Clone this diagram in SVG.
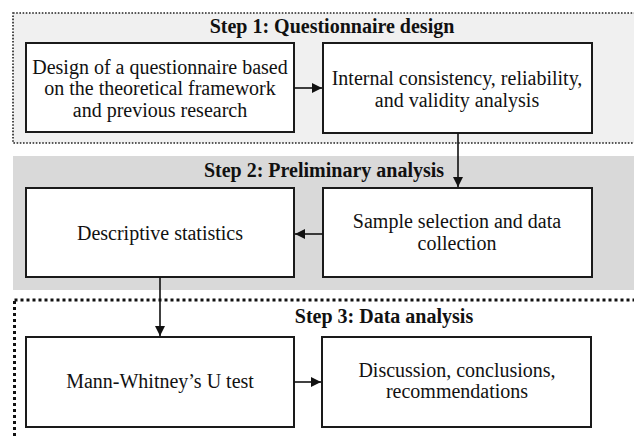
<svg xmlns="http://www.w3.org/2000/svg" width="634" height="438" viewBox="0 0 634 438">
<defs>
<style>
.box{fill:#fff;stroke:#1a1a1a;stroke-width:2}
.t{font-family:"Liberation Serif","Times New Roman",serif;font-size:20px;fill:#111;text-anchor:middle}
.h{font-family:"Liberation Serif","Times New Roman",serif;font-size:20px;font-weight:bold;fill:#111;text-anchor:middle}
.c{stroke:#111;stroke-width:1.6;fill:none}
</style>
<marker id="ah" viewBox="0 0 10 10" refX="10" refY="5" markerWidth="10" markerHeight="10" markerUnits="userSpaceOnUse" orient="auto">
<path d="M0,0 L10,5 L0,10 z" fill="#111"/>
</marker>
</defs>
<rect width="634" height="438" fill="#fff"/>
<g id="step1">
<rect x="13" y="13" width="640" height="130" fill="#f0f0f0" stroke="#222" stroke-width="1.6" stroke-dasharray="1.6 1.6"/>
<text class="h" x="332" y="33">Step 1: Questionnaire design</text>
</g>
<g id="step2">
<rect x="13" y="156" width="640" height="134" fill="#d9d9d9"/>
<text class="h" x="324" y="177">Step 2: Preliminary analysis</text>
</g>
<g id="step3">
<rect x="14.5" y="300" width="640" height="160" fill="none" stroke="#111" stroke-width="3" stroke-dasharray="3 3"/>
<text class="h" x="384" y="323">Step 3: Data analysis</text>
</g>
<g id="n1">
<rect class="box" x="26" y="43" width="268" height="89"/>
<text class="t" x="160" y="74">Design of a questionnaire based</text>
<text class="t" x="160" y="95">on the theoretical framework</text>
<text class="t" x="160" y="117">and previous research</text>
</g>
<g id="n2">
<rect class="box" x="323" y="43" width="269" height="90"/>
<text class="t" x="457" y="85">Internal consistency, reliability,</text>
<text class="t" x="457" y="107">and validity analysis</text>
</g>
<g id="n3">
<rect class="box" x="323" y="188" width="269" height="89"/>
<text class="t" x="457" y="228">Sample selection and data</text>
<text class="t" x="457" y="250">collection</text>
</g>
<g id="n4">
<rect class="box" x="26" y="188" width="268" height="89"/>
<text class="t" x="160" y="240">Descriptive statistics</text>
</g>
<g id="n5">
<rect class="box" x="26" y="337" width="268" height="90"/>
<text class="t" x="160" y="388">Mann-Whitney’s U test</text>
</g>
<g id="n6">
<rect class="box" x="322" y="337" width="269" height="90"/>
<text class="t" x="457" y="377">Discussion, conclusions,</text>
<text class="t" x="457" y="398">recommendations</text>
</g>
<g id="connectors">
<line class="c" x1="294" y1="88" x2="322" y2="88" marker-end="url(#ah)"/>
<line class="c" x1="458" y1="133" x2="458" y2="187" marker-end="url(#ah)"/>
<line class="c" x1="323" y1="234" x2="295" y2="234" marker-end="url(#ah)"/>
<line class="c" x1="160" y1="277" x2="160" y2="336" marker-end="url(#ah)"/>
<line class="c" x1="294" y1="382" x2="321" y2="382" marker-end="url(#ah)"/>
</g>
</svg>
